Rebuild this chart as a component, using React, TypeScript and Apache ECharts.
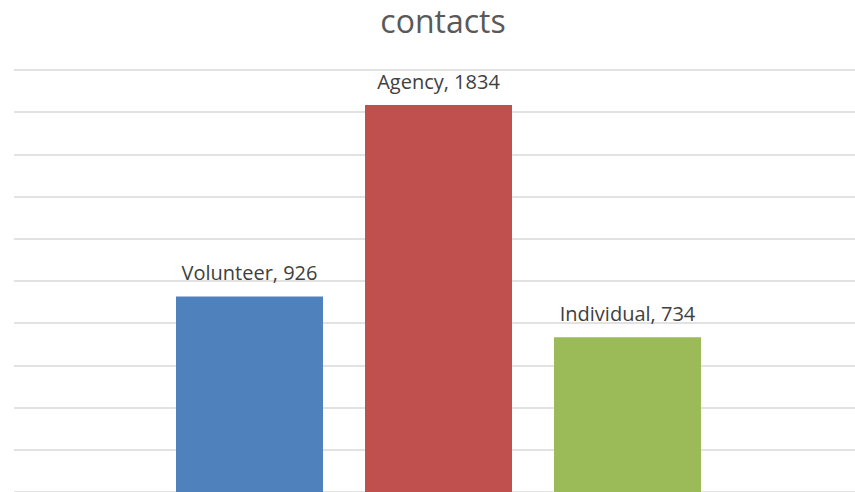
import React, { useEffect, useRef } from "react";
import * as echarts from "echarts";

const categories = ["Volunteer", "Agency", "Individual"];
const values = [926, 1834, 734];
const colors = ["#4f81bd", "#c0504d", "#9bbb59"];
const titleText = "contacts";

export default function App() {
  const ref = useRef<HTMLDivElement>(null);
  useEffect(() => {
    const chart = echarts.init(ref.current!, null, { renderer: "svg" });
    const font = "'Open Sans', sans-serif";
    chart.setOption({
      animation: false,
      backgroundColor: "#ffffff",
      title: {
        text: titleText,
        left: 438,
        top: 0,
        padding: [2, 5, 2, 5],
        textAlign: "center",
        textStyle: { fontFamily: font, fontSize: 32, lineHeight: 36, fontWeight: "normal", color: "#595959" },
      },
      grid: [
        { left: 14, right: 0, top: 70, height: 423.3, containLabel: false },
        { left: 155, width: 567, top: 70, height: 423.3, containLabel: false },
      ],
      xAxis: [
        { type: "category", gridIndex: 0, data: categories, show: false },
        {
          type: "category",
          gridIndex: 1,
          data: categories,
          axisLine: { show: false },
          axisTick: { show: false },
          axisLabel: { show: false },
        },
      ],
      yAxis: [
        {
          type: "value",
          gridIndex: 0,
          min: 0,
          max: 2000,
          interval: 200,
          axisLine: { show: false },
          axisTick: { show: false },
          axisLabel: { show: false },
          splitLine: { lineStyle: { color: "#d9d9d9", width: 1.5 } },
        },
        {
          type: "value",
          gridIndex: 1,
          min: 0,
          max: 2000,
          interval: 200,
          show: false,
          splitLine: { show: false },
        },
      ],
      series: [
        {
          type: "bar",
          xAxisIndex: 1,
          yAxisIndex: 1,
          barWidth: 147,
          data: values.map((v, i) => ({ value: v, itemStyle: { color: colors[i] } })),
          label: {
            show: true,
            position: "top",
            distance: 14,
            formatter: "{b}, {c}",
            fontFamily: font,
            fontSize: 20,
            color: "#404040",
          },
        },
      ],
    });
    return () => chart.dispose();
  }, []);
  return (
    <div
      ref={ref}
      style={{ position: "fixed", left: 0, top: 0, width: 855, height: 492 }}
    />
  );
}
